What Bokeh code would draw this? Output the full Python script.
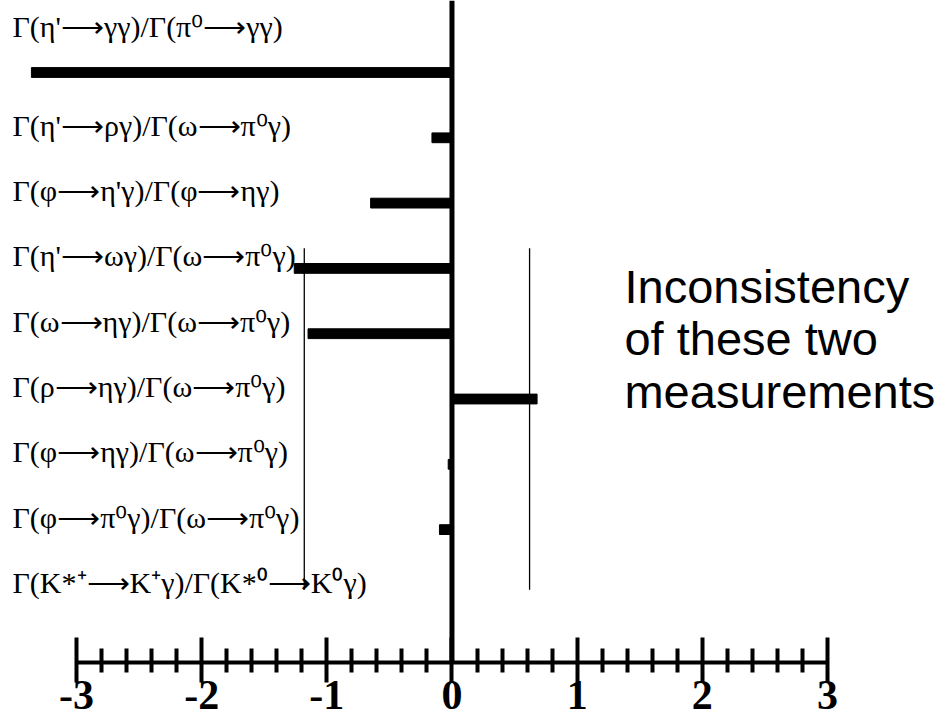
from bokeh.plotting import figure
from bokeh.models import Range1d, LinearAxis, FixedTicker, Span
from bokeh.core.properties import value
from bokeh.embed import file_html
from bokeh.resources import INLINE

# ---- data ----
ratios = [
    "Γ(η'⟶γγ)/Γ(π⁰⟶γγ)",
    "Γ(η'⟶ργ)/Γ(ω⟶π⁰γ)",
    "Γ(φ⟶η'γ)/Γ(φ⟶ηγ)",
    "Γ(η'⟶ωγ)/Γ(ω⟶π⁰γ)",
    "Γ(ω⟶ηγ)/Γ(ω⟶π⁰γ)",
    "Γ(ρ⟶ηγ)/Γ(ω⟶π⁰γ)",
    "Γ(φ⟶ηγ)/Γ(ω⟶π⁰γ)",
    "Γ(φ⟶π⁰γ)/Γ(ω⟶π⁰γ)",
    "Γ(K*⁺⟶K⁺γ)/Γ(K*⁰⟶K⁰γ)",
]
deviations = [-3.36, -0.16, -0.65, -1.26, -1.15, 0.68, -0.03, -0.10, 0.0]
tick_values = [-3, -2, -1, 0, 1, 2, 3]
tick_labels = ["-3", "-2", "-1", "0", "1", "2", "3"]
minor_tick_values = [-2.8, -2.6, -2.4, -2.2, -1.8, -1.6, -1.4, -1.2,
                     -0.8, -0.6, -0.4, -0.2, 0.2, 0.4, 0.6, 0.8,
                     1.2, 1.4, 1.6, 1.8, 2.2, 2.4, 2.6, 2.8]
inconsistency_x = [-1.18, 0.62]
inconsistency_top = 2.69
inconsistency_bottom = 7.92
note_lines = ["Inconsistency", "of these two", "measurements"]

rows = list(range(len(ratios)))

# ---- figure ----
W, H = 943, 726
p = figure(width=W, height=H, output_backend="svg", toolbar_location=None,
           x_range=Range1d(-3.607, 3.927), y_range=Range1d(9.035, -1.1026),
           x_axis_type=None, y_axis_type=None,
           min_border_left=0, min_border_right=0, min_border_top=0,
           min_border_bottom=64)
p.outline_line_color = None
p.background_fill_color = "white"
p.border_fill_color = "white"
p.xgrid.visible = False
p.ygrid.visible = False

axis = LinearAxis(bounds=(-3, 3))
axis.ticker = FixedTicker(ticks=tick_values, minor_ticks=minor_tick_values)
axis.major_label_overrides = {t: l for t, l in zip(tick_values, tick_labels)}
axis.axis_line_width = 4
axis.axis_line_color = "black"
axis.major_tick_line_width = 4
axis.minor_tick_line_width = 4
axis.major_tick_in = 25
axis.major_tick_out = 20
axis.minor_tick_in = 14
axis.minor_tick_out = 10
axis.major_label_standoff = -2
axis.major_label_text_font = "Liberation Serif"
axis.major_label_text_font_style = "bold"
axis.major_label_text_font_size = "42px"
axis.major_label_text_color = "black"
p.add_layout(axis, "below")

# zero line
p.add_layout(Span(location=0, dimension="height", line_color="black", line_width=5))

# bars
p.hbar(y=rows, left=0, right=deviations, height=0.15, color="black")

# inconsistency markers
p.segment(x0=inconsistency_x, y0=[inconsistency_top] * 2,
          x1=inconsistency_x, y1=[inconsistency_bottom] * 2,
          line_color="black", line_width=1.3)

# ratio labels
label_rows = [r - 0.19 for r in rows]
label_rows[0] = rows[0] - 0.71
p.text(x=[-3.511] * len(ratios), y=label_rows, text=ratios,
       text_font=value("Liberation Serif"), text_font_size="30px",
       text_baseline="middle", text_align="left", text_color="black")

# note
p.text(x=[1.378] * 3, y=[3.27, 4.08, 4.89], text=note_lines,
       text_font=value("Liberation Sans"), text_font_size="47px",
       text_baseline="alphabetic", text_align="left", text_color="black")

open("out.html", "w").write(file_html(p, INLINE))
